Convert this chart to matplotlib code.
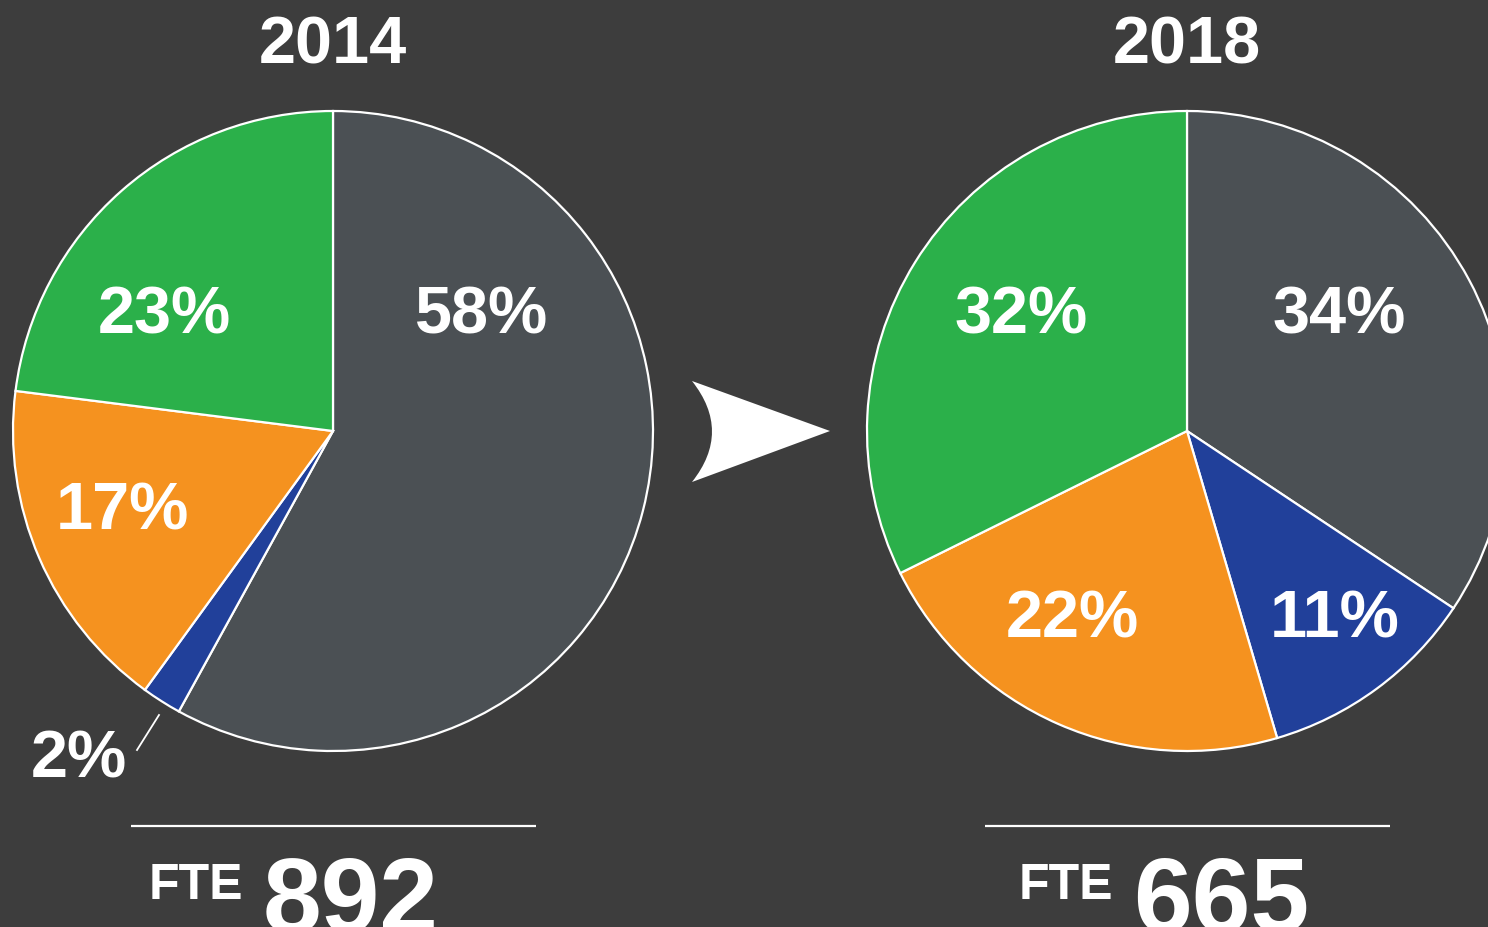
import matplotlib.pyplot as plt
from matplotlib.path import Path
from matplotlib.patches import PathPatch

# data
years = ['2014', '2018']
shares_2014 = [58, 2, 17, 23]   # gray, blue, orange, green
shares_2018 = [34, 11, 22, 32]
fte = [892, 665]

W, H = 1488, 928
BG = '#3d3d3d'
slice_colors = ['#4b5054', '#21409a', '#f5921f', '#2bb04a']
FONT = 'Liberation Sans'


def fy(y):
    # pixel row (from top) -> data y
    return H - y


fig = plt.figure(figsize=(W / 100, H / 100), dpi=100, facecolor=BG)
ax = fig.add_axes([0, 0, 1, 1])
ax.set_facecolor(BG)

centers = [(333, 432), (1187, 432)]
radius = 320
for shares, (cx, cy) in zip([shares_2014, shares_2018], centers):
    ax.pie(shares, colors=slice_colors, startangle=90, counterclock=False,
           center=(cx, fy(cy)), radius=radius, normalize=True,
           wedgeprops=dict(edgecolor='white', linewidth=1.6))

# label positions (center x, baseline row) per slice
label_pos = [
    [(482, 334), (79, 778), (122, 529), (164, 334)],
    [(1339, 334), (1335, 638), (1072, 638), (1021, 334)],
]
for shares, positions in zip([shares_2014, shares_2018], label_pos):
    for v, (x, y) in zip(shares, positions):
        ax.text(x, fy(y), f'{v}%', color='white', fontsize=48,
                fontweight='bold', family=FONT, ha='center', va='baseline')

# leader line for the 2% slice
ax.plot([159, 137], [fy(716), fy(751)], color='white', lw=1.3)

# year titles
for yr, (cx, cy) in zip(years, centers):
    ax.text(cx, fy(63), yr, color='white', fontsize=48, fontweight='bold',
            family=FONT, ha='center', va='baseline')

# rules and FTE totals
rule_x = [(131, 536), (985, 1390)]
fte_x = [(149, 263), (1019, 1133)]
for total, (x0, x1), (tx, nx) in zip(fte, rule_x, fte_x):
    ax.plot([x0, x1], [fy(827), fy(827)], color='white', lw=1.6,
            solid_capstyle='butt')
    ax.text(tx, fy(899), 'FTE', color='white', fontsize=36,
            fontweight='bold', family=FONT, ha='left', va='baseline')
    ax.text(nx, fy(932), str(total), color='white', fontsize=76,
            fontweight='bold', family=FONT, ha='left', va='baseline')

# arrow between the pies
verts = [(692, fy(382)), (830, fy(432)), (692, fy(483)),
         (732, fy(432.5)), (692, fy(382)), (692, fy(382))]
codes = [Path.MOVETO, Path.LINETO, Path.LINETO,
         Path.CURVE3, Path.CURVE3, Path.CLOSEPOLY]
ax.add_patch(PathPatch(Path(verts, codes), facecolor='white',
                       edgecolor='none'))

ax.set_xlim(0, W)
ax.set_ylim(0, H)
ax.set_aspect('auto')
ax.axis('off')

fig.savefig('out.png', dpi=100, facecolor=BG)
